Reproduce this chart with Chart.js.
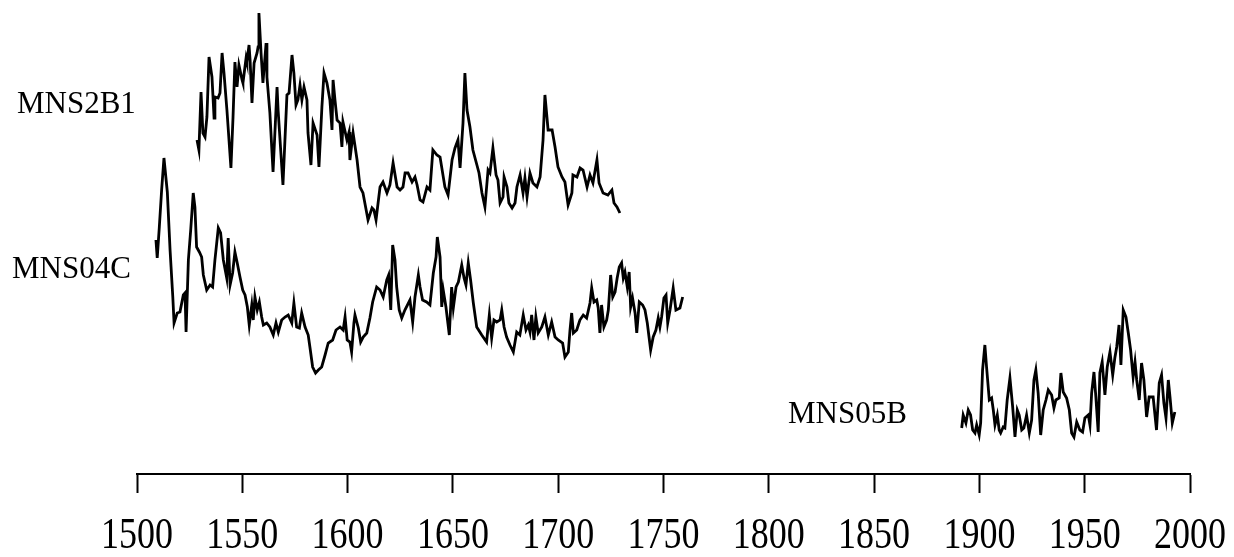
<!DOCTYPE html>
<html>
<head>
<meta charset="utf-8">
<script src="https://cdn.jsdelivr.net/npm/chart.js@4.4.1/dist/chart.umd.min.js"></script>
<style>
  html, body { margin: 0; padding: 0; background: #fff; }
  #wrap { width: 1234px; height: 557px; }
</style>
</head>
<body>
<div id="wrap"><canvas id="chart"></canvas></div>
<script>
// tick labels on the year axis
const yearTicks = [1500, 1550, 1600, 1650, 1700, 1750, 1800, 1850, 1900, 1950, 2000];

// series names (drawn as text beside each curve)
const seriesNames = ["MNS2B1", "MNS04C", "MNS05B"];

// MNS2B1 (top curve), index in arbitrary units (curves stacked on one scale)
const mns2b1Years = [
  1528.5, 1529.4, 1530.4, 1531.3, 1532.3, 1533.2, 1534.2, 1535.6, 1536.6, 1537.0,
  1538.5, 1539.4, 1540.4, 1541.3, 1542.7, 1544.6, 1545.6, 1546.5, 1547.5, 1548.4,
  1549.9, 1550.3, 1551.8, 1552.2, 1553.2, 1553.7, 1554.6, 1555.6, 1557.0, 1557.5,
  1557.9, 1558.9, 1559.8, 1561.3, 1561.7, 1563.1, 1564.6, 1566.5, 1567.0, 1569.3,
  1571.2, 1572.2, 1573.6, 1574.5, 1575.5, 1576.4, 1577.4, 1578.3, 1579.3, 1580.7,
  1581.2, 1582.6, 1583.6, 1585.5, 1586.4, 1587.8, 1588.8, 1590.2, 1591.6, 1592.6,
  1593.1, 1594.0, 1595.0, 1596.4, 1597.3, 1597.8, 1599.7, 1600.7, 1601.1, 1602.6,
  1604.5, 1605.9, 1607.3, 1609.7, 1611.6, 1612.5, 1613.5, 1615.4, 1616.8, 1618.7,
  1620.1, 1621.6, 1623.5, 1624.9, 1626.3, 1627.3, 1628.7, 1630.6, 1632.0, 1633.0,
  1634.4, 1635.8, 1637.7, 1639.1, 1640.5, 1642.4, 1643.9, 1646.2, 1647.7, 1649.6,
  1651.0, 1652.4, 1653.4, 1654.8, 1655.7, 1656.7, 1658.1, 1659.5, 1661.4, 1662.4,
  1663.8, 1665.2, 1666.7, 1667.6, 1669.0, 1670.5, 1671.4, 1672.4, 1673.8, 1674.3,
  1675.7, 1676.6, 1678.1, 1679.5, 1680.4, 1681.9, 1683.3, 1684.2, 1685.2, 1686.6,
  1688.0, 1689.9, 1691.4, 1692.8, 1693.7, 1695.2, 1697.1, 1698.5, 1699.9, 1701.8,
  1703.2, 1704.7, 1706.5, 1707.0, 1708.9, 1710.4, 1711.8, 1713.7, 1715.1, 1716.5,
  1718.4, 1719.4, 1721.3, 1723.6, 1725.5, 1726.5, 1727.9, 1729.3
];
const mns2b1Values = [
  33.4, 32.4, 38.2, 34.1, 33.7, 35.7, 41.7, 39.7, 35.6, 37.7,
  37.6, 38.1, 42.1, 40.1, 36.4, 30.6, 35.7, 41.2, 38.7, 40.9,
  39.4, 39.1, 41.6, 41.2, 42.9, 41.4, 37.1, 41.1, 42.1, 42.7,
  46.1, 42.1, 39.1, 43.1, 39.7, 36.1, 30.2, 38.7, 36.4, 28.9,
  37.9, 38.1, 41.9, 40.1, 36.9, 37.4, 38.9, 37.4, 38.7, 37.4,
  34.1, 30.9, 35.1, 33.9, 30.7, 36.7, 40.1, 39.1, 37.4, 34.4,
  39.4, 37.4, 35.4, 35.1, 32.7, 35.2, 33.4, 34.2, 31.4, 34.1,
  31.4, 28.7, 28.1, 25.4, 26.6, 26.4, 25.4, 28.7, 29.2, 28.1,
  28.9, 31.1, 28.7, 28.4, 28.7, 30.1, 30.1, 29.2, 29.7, 28.9,
  27.4, 27.2, 28.7, 28.4, 32.4, 31.9, 31.7, 28.7, 27.9, 31.4,
  32.6, 33.4, 30.6, 35.1, 40.1, 36.4, 34.7, 32.4, 30.9, 30.1,
  28.1, 26.7, 30.4, 30.1, 32.6, 29.9, 29.4, 27.1, 27.7, 29.7,
  28.7, 27.1, 26.6, 27.1, 28.7, 29.9, 28.1, 29.6, 27.7, 30.1,
  29.1, 28.7, 29.7, 33.4, 37.9, 34.4, 34.4, 32.7, 30.7, 29.7,
  29.2, 26.9, 28.1, 29.9, 29.7, 30.6, 30.4, 28.7, 29.9, 29.1,
  31.4, 29.1, 28.1, 27.9, 28.4, 27.1, 26.7, 26.1
];

// MNS04C (middle curve)
const mns04cYears = [
  1509.0, 1509.6, 1510.6, 1511.7, 1512.8, 1514.4, 1515.7, 1517.0, 1517.6, 1519.1,
  1520.4, 1522.0, 1522.8, 1523.3, 1524.4, 1525.5, 1526.7, 1527.5, 1528.3, 1529.6,
  1530.7, 1531.5, 1533.1, 1534.7, 1535.9, 1537.0, 1538.6, 1539.7, 1541.0, 1542.6,
  1543.3, 1544.2, 1545.4, 1546.5, 1547.6, 1548.9, 1550.2, 1551.3, 1552.4, 1553.3,
  1554.5, 1555.2, 1556.0, 1557.1, 1558.1, 1559.2, 1560.0, 1561.6, 1563.1, 1564.7,
  1566.0, 1567.1, 1568.7, 1570.3, 1571.8, 1573.5, 1574.5, 1575.8, 1577.1, 1578.2,
  1579.8, 1581.3, 1582.1, 1583.4, 1584.8, 1586.1, 1587.7, 1589.3, 1590.8, 1592.9,
  1594.5, 1596.4, 1597.9, 1598.8, 1599.8, 1601.1, 1601.9, 1603.0, 1603.5, 1605.1,
  1606.2, 1607.4, 1609.1, 1610.6, 1611.9, 1613.8, 1615.4, 1616.9, 1618.6, 1619.5,
  1620.5, 1621.4, 1622.5, 1623.3, 1624.5, 1625.7, 1627.2, 1629.6, 1630.9, 1632.0,
  1633.6, 1634.4, 1635.6, 1637.5, 1639.1, 1640.7, 1642.0, 1642.6, 1643.9, 1644.7,
  1645.4, 1646.7, 1648.3, 1649.4, 1650.2, 1651.5, 1652.6, 1654.2, 1655.3, 1656.2,
  1657.3, 1658.4, 1659.7, 1661.3, 1663.7, 1666.0, 1667.3, 1668.4, 1669.5, 1670.8,
  1672.4, 1673.2, 1674.3, 1675.5, 1677.1, 1678.7, 1680.3, 1681.8, 1683.4, 1684.7,
  1685.8, 1686.6, 1687.4, 1688.5, 1689.4, 1690.5, 1692.2, 1693.7, 1695.3, 1696.9,
  1698.5, 1700.0, 1702.1, 1703.2, 1704.8, 1705.6, 1706.4, 1707.2, 1708.8, 1710.3,
  1711.9, 1713.5, 1715.1, 1715.9, 1717.0, 1718.3, 1719.0, 1719.8, 1720.6, 1721.7,
  1723.0, 1723.8, 1724.9, 1725.9, 1727.0, 1728.0, 1729.0, 1730.1, 1730.9, 1731.7,
  1732.8, 1733.7, 1734.4, 1735.3, 1736.5, 1737.3, 1738.5, 1740.1, 1741.2, 1742.3,
  1743.9, 1745.1, 1746.4, 1747.5, 1748.3, 1749.1, 1750.2, 1751.2, 1752.0, 1753.1,
  1754.6, 1755.9, 1757.8, 1759.1
];
const mns04cValues = [
  23.4, 21.6, 24.7, 28.4, 31.6, 28.2, 22.4, 17.7, 15.1, 16.1,
  16.2, 17.9, 18.1, 14.2, 21.4, 24.4, 28.1, 26.7, 22.7, 22.2,
  21.7, 19.9, 18.4, 18.9, 18.7, 21.4, 24.6, 24.1, 21.4, 19.6,
  23.6, 18.9, 20.1, 22.2, 21.1, 19.7, 18.4, 17.9, 16.7, 14.9,
  16.9, 15.4, 17.7, 16.4, 17.2, 15.7, 14.9, 15.1, 14.7, 13.9,
  15.1, 14.2, 15.4, 15.7, 15.9, 15.1, 17.1, 14.7, 14.6, 16.1,
  14.7, 13.9, 12.7, 10.7, 10.1, 10.4, 10.7, 11.9, 13.1, 13.4,
  14.4, 14.7, 14.4, 15.7, 13.4, 13.2, 12.2, 15.1, 15.9, 14.6,
  13.2, 13.7, 14.1, 15.6, 17.2, 18.7, 18.4, 17.7, 19.4, 19.9,
  16.4, 22.9, 21.4, 18.7, 16.4, 15.6, 16.4, 17.4, 15.2, 17.7,
  19.9, 18.7, 17.4, 17.2, 16.9, 20.1, 21.7, 23.7, 21.7, 16.7,
  18.4, 16.7, 13.9, 18.7, 16.6, 18.7, 19.2, 20.9, 19.6, 18.9,
  21.1, 19.4, 17.1, 14.7, 13.9, 13.2, 15.9, 13.6, 15.4, 15.2,
  15.4, 16.4, 14.7, 13.7, 12.9, 12.2, 14.2, 13.9, 15.9, 14.4,
  14.9, 14.2, 15.9, 13.4, 15.7, 14.1, 14.7, 15.7, 13.9, 15.2,
  13.7, 13.4, 13.1, 11.7, 12.2, 14.4, 16.1, 14.1, 14.4, 15.4,
  15.9, 15.6, 17.1, 18.6, 17.2, 17.4, 16.6, 14.1, 16.9, 14.7,
  15.4, 16.4, 19.9, 17.7, 18.2, 19.6, 20.7, 21.1, 19.6, 20.2,
  18.7, 20.2, 16.7, 17.6, 16.1, 14.1, 17.2, 16.9, 16.4, 15.1,
  12.4, 13.7, 14.4, 15.6, 14.7, 15.7, 17.6, 17.9, 15.1, 16.4,
  18.6, 16.4, 16.6, 17.7
];

// MNS05B (bottom right curve)
const mns05bYears = [
  1891.6, 1892.3, 1893.6, 1894.7, 1895.8, 1896.8, 1897.9, 1898.7, 1899.9, 1900.6,
  1901.5, 1902.6, 1903.4, 1904.7, 1905.8, 1906.6, 1907.4, 1908.5, 1909.4, 1910.1,
  1911.3, 1912.1, 1913.2, 1914.5, 1915.8, 1916.9, 1918.0, 1918.9, 1920.1, 1921.1,
  1922.4, 1923.7, 1924.8, 1925.9, 1926.8, 1927.9, 1929.1, 1930.3, 1931.6, 1932.7,
  1934.3, 1935.4, 1936.3, 1937.9, 1938.7, 1939.8, 1941.4, 1942.7, 1943.8, 1944.9,
  1946.2, 1947.7, 1949.0, 1950.1, 1951.7, 1952.5, 1953.3, 1954.4, 1955.3, 1956.4,
  1957.2, 1958.3, 1959.6, 1960.7, 1962.0, 1963.3, 1964.3, 1965.2, 1966.3, 1967.2,
  1968.3, 1969.6, 1970.7, 1971.8, 1973.0, 1973.9, 1974.7, 1975.9, 1977.0, 1978.1,
  1979.4, 1980.6, 1982.5, 1984.1, 1985.4, 1986.5, 1987.6, 1988.6, 1989.7, 1990.5,
  1991.6, 1992.8
];
const mns05bValues = [
  4.6, 5.9, 5.1, 6.4, 5.9, 4.4, 4.1, 4.9, 3.9, 5.1,
  10.4, 12.9, 10.7, 7.4, 7.6, 6.4, 4.9, 5.9, 4.4, 4.1,
  4.7, 4.6, 7.4, 9.6, 6.7, 3.7, 6.4, 5.9, 4.4, 4.6,
  5.9, 4.1, 5.4, 9.4, 10.4, 8.1, 3.9, 6.4, 7.4, 8.4,
  7.9, 6.6, 7.4, 7.6, 10.1, 8.2, 7.6, 6.4, 4.1, 3.7,
  5.2, 4.4, 4.2, 5.6, 5.9, 4.9, 8.1, 10.2, 7.7, 4.2,
  10.1, 11.2, 7.9, 10.7, 12.2, 9.9, 11.6, 12.7, 14.9, 10.9,
  16.4, 15.7, 14.1, 12.4, 9.7, 11.2, 9.4, 7.4, 11.1, 9.4,
  5.7, 7.7, 7.7, 4.4, 9.1, 9.9, 7.1, 5.6, 9.4, 7.7,
  5.1, 6.2
];

function toPoints(years, values) {
  return years.map((yr, i) => ({ x: yr, y: values[i] }));
}

const serif = "'Liberation Serif', 'Times New Roman', serif";

// draws the series names and the tall year labels under the axis
const textPlugin = {
  id: "textPlugin",
  afterDraw(chart) {
    const ctx = chart.ctx;
    const xs = chart.scales.x;
    ctx.save();
    ctx.fillStyle = "#000";
    ctx.font = "31px " + serif;
    ctx.textAlign = "left";
    ctx.textBaseline = "alphabetic";
    ctx.fillText(seriesNames[0], 17, 113);
    ctx.fillText(seriesNames[1], 12, 278);
    ctx.fillText(seriesNames[2], 788, 423);

    // year labels are taller than they are wide in the original
    ctx.font = "36px " + serif;
    ctx.textAlign = "center";
    yearTicks.forEach(t => {
      const px = xs.getPixelForValue(t);
      ctx.save();
      ctx.translate(px, 548);
      ctx.scale(1, 1.25);
      ctx.fillText(String(t), 0, 0);
      ctx.restore();
    });
    ctx.restore();
  }
};

const lineStyle = {
  borderColor: "#000",
  borderWidth: 2.8,
  pointRadius: 0,
  fill: false,
  tension: 0
};

new Chart(document.getElementById("chart"), {
  type: "line",
  data: {
    datasets: [
      { label: seriesNames[0], data: toPoints(mns2b1Years, mns2b1Values), ...lineStyle },
      { label: seriesNames[1], data: toPoints(mns04cYears, mns04cValues), ...lineStyle },
      { label: seriesNames[2], data: toPoints(mns05bYears, mns05bValues), ...lineStyle }
    ]
  },
  options: {
    responsive: true,
    maintainAspectRatio: false,
    animation: false,
    layout: { padding: { left: 137, right: 44, top: 0, bottom: 64 } },
    plugins: { legend: { display: false }, tooltip: { enabled: false } },
    scales: {
      x: {
        type: "linear",
        min: 1500,
        max: 2000,
        ticks: { display: false, stepSize: 50 },
        grid: {
          drawOnChartArea: false,
          drawTicks: true,
          tickLength: 19,
          tickWidth: 2,
          tickColor: "#000"
        },
        border: { display: true, color: "#000", width: 2 }
      },
      y: {
        display: false,
        min: 0,
        max: 47.4
      }
    }
  },
  plugins: [textPlugin]
});
</script>
</body>
</html>
